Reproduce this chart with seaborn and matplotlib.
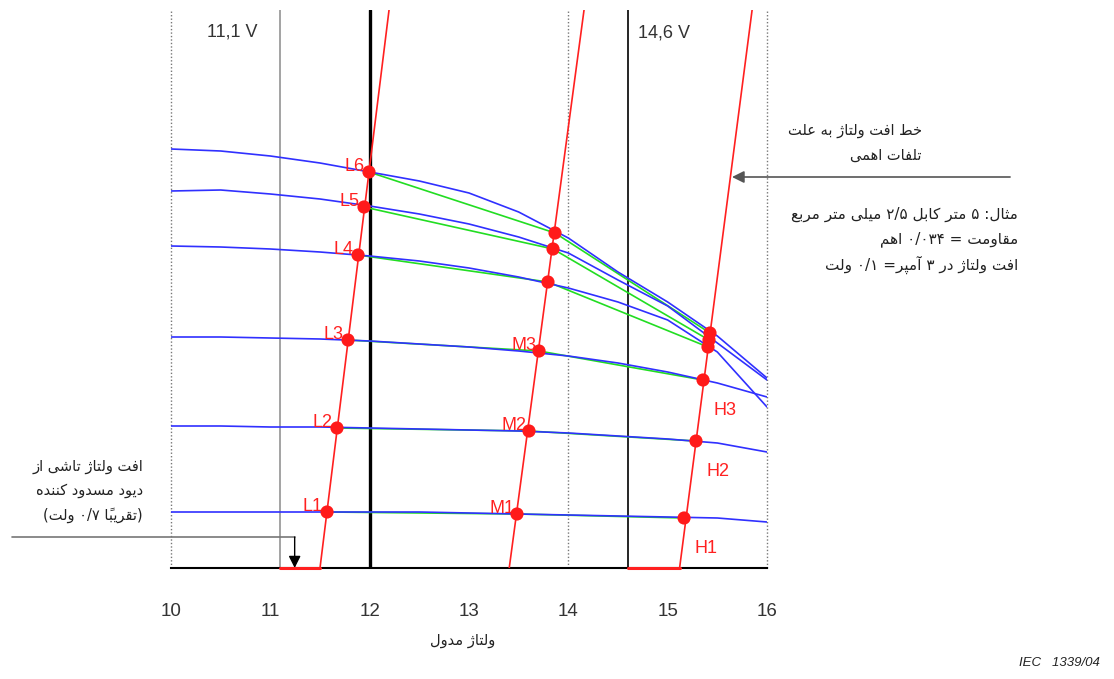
import numpy as np
import pandas as pd
import seaborn as sns
import matplotlib
matplotlib.use('Agg')
from matplotlib import pyplot as plt

# module voltage grid (V) and the six I-V curves (arbitrary current units)
volts = [10.0, 10.5, 11.0, 11.5, 12.0, 12.5, 13.0, 13.5, 14.0, 14.5, 15.0, 15.5, 16.0]
curve1 = [0.56, 0.56, 0.56, 0.56, 0.56, 0.56, 0.55, 0.54, 0.53, 0.52, 0.51, 0.50, 0.46]
curve2 = [1.42, 1.42, 1.41, 1.41, 1.40, 1.39, 1.38, 1.37, 1.35, 1.32, 1.29, 1.25, 1.16]
curve3 = [2.31, 2.31, 2.30, 2.29, 2.27, 2.24, 2.21, 2.17, 2.12, 2.05, 1.96, 1.85, 1.71]
curve4 = [3.22, 3.21, 3.19, 3.16, 3.12, 3.07, 3.00, 2.91, 2.80, 2.66, 2.48, 2.16, 1.61]
curve5 = [3.77, 3.78, 3.74, 3.69, 3.62, 3.54, 3.44, 3.31, 3.15, 2.88, 2.62, 2.25, 1.88]
curve6 = [4.19, 4.17, 4.12, 4.05, 3.96, 3.87, 3.75, 3.56, 3.30, 2.96, 2.66, 2.32, 1.90]

# operating points on the three load lines (L, M, H)
L_v = [11.571, 11.671, 11.782, 11.883, 11.943, 11.993]
L_i = [0.56, 1.40, 2.28, 3.13, 3.61, 3.96]
M_v = [13.483, 13.604, 13.705, 13.795, 13.846, 13.866]
M_i = [0.54, 1.37, 2.17, 2.86, 3.19, 3.35]
H_v = [15.165, 15.285, 15.356, 15.406, 15.416, 15.426]
H_i = [0.50, 1.27, 1.88, 2.21, 2.28, 2.35]

# load lines: bottom / top voltage
load_names = ['L', 'M', 'H']
load_v0 = [11.5, 13.405, 15.12]
load_v1 = [12.195, 14.158, 15.85]
i_top = 5.58

# diode drop segments on the axis
drop_start = [11.1, 14.6]
drop_end = [11.5, 15.12]

ticks = [10, 11, 12, 13, 14, 15, 16]
labeled_L = ['L1', 'L2', 'L3', 'L4', 'L5', 'L6']
labeled_M = ['M1', 'M2', 'M3']
labeled_H = ['H1', 'H2', 'H3']

txt_diode = ['افت ولتاژ تاشی از', 'دیود مسدود کننده', '(تقریباً ۰/۷ ولت)']
txt_line = ['خط افت ولتاژ به علت', 'تلفات اهمی']
txt_example = ['مثال: ۵ متر کابل ۲/۵ میلی متر مربع', 'مقاومت = ۰/۰۳۴ اهم',
               'افت ولتاژ در ۳ آمپر= ۰/۱ ولت']
txt_xlabel = 'ولتاژ مدول'

# --- simple Persian shaping (matplotlib has no complex text layout) ---
FORMS = {
    'ا': ('\uFE8D', '\uFE8E', None, None), 'آ': ('\uFE81', '\uFE82', None, None),
    'ب': ('\uFE8F', '\uFE90', '\uFE91', '\uFE92'), 'پ': ('\uFB56', '\uFB57', '\uFB58', '\uFB59'),
    'ت': ('\uFE95', '\uFE96', '\uFE97', '\uFE98'), 'ث': ('\uFE99', '\uFE9A', '\uFE9B', '\uFE9C'),
    'خ': ('\uFEA5', '\uFEA6', '\uFEA7', '\uFEA8'), 'د': ('\uFEA9', '\uFEAA', None, None),
    'ر': ('\uFEAD', '\uFEAE', None, None), 'ز': ('\uFEAF', '\uFEB0', None, None),
    'ژ': ('\uFB8A', '\uFB8B', None, None), 'س': ('\uFEB1', '\uFEB2', '\uFEB3', '\uFEB4'),
    'ش': ('\uFEB5', '\uFEB6', '\uFEB7', '\uFEB8'), 'ط': ('\uFEC1', '\uFEC2', '\uFEC3', '\uFEC4'),
    'ع': ('\uFEC9', '\uFECA', '\uFECB', '\uFECC'), 'ف': ('\uFED1', '\uFED2', '\uFED3', '\uFED4'),
    'ق': ('\uFED5', '\uFED6', '\uFED7', '\uFED8'), 'ک': ('\uFB8E', '\uFB8F', '\uFB90', '\uFB91'),
    'ل': ('\uFEDD', '\uFEDE', '\uFEDF', '\uFEE0'), 'م': ('\uFEE1', '\uFEE2', '\uFEE3', '\uFEE4'),
    'ن': ('\uFEE5', '\uFEE6', '\uFEE7', '\uFEE8'), 'ه': ('\uFEE9', '\uFEEA', '\uFEEB', '\uFEEC'),
    'و': ('\uFEED', '\uFEEE', None, None), 'ی': ('\uFBFC', '\uFBFD', '\uFBFE', '\uFBFF'),
}
MARKS = '\u064B'
DIGITS = '۰۱۲۳۴۵۶۷۸۹0123456789'


def fa(text):
    chars = list(text)
    shaped = []
    for n, ch in enumerate(chars):
        if ch not in FORMS:
            shaped.append(ch)
            continue
        j = n - 1
        while j >= 0 and chars[j] in MARKS:
            j -= 1
        k = n + 1
        while k < len(chars) and chars[k] in MARKS:
            k += 1
        prev = chars[j] if j >= 0 else None
        nxt = chars[k] if k < len(chars) else None
        jp = prev in FORMS and FORMS[prev][2] is not None
        jn = FORMS[ch][2] is not None and nxt in FORMS
        iso, fin, ini, med = FORMS[ch]
        shaped.append(med if jp and jn else fin if jp else ini if jn else iso)
    # clusters (base + marks)
    clusters = []
    for ch in shaped:
        if ch in MARKS and clusters:
            clusters[-1] += ch
        else:
            clusters.append(ch)
    # runs: digits stay left-to-right, the rest is reversed
    runs = []
    for n, c in enumerate(clusters):
        is_dig = c in DIGITS or (c == '/' and 0 < n < len(clusters) - 1
                                 and clusters[n - 1] in DIGITS and clusters[n + 1] in DIGITS)
        if runs and runs[-1][0] == is_dig:
            runs[-1][1].append(c)
        else:
            runs.append([is_dig, [c]])
    out = []
    for is_dig, cl in reversed(runs):
        out.extend(cl if is_dig else reversed(cl))
    mirror = {'(': ')', ')': '('}
    return ''.join(mirror.get(c, c) for c in out)


sns.set_style('white')
plt.rcParams['font.family'] = ['Liberation Sans', 'DejaVu Sans']

fig = plt.figure(figsize=(11.14, 6.79), dpi=100)
ax = fig.add_axes([171 / 1114, 111 / 679, 596 / 1114, 558 / 679])

# vertical reference lines
for v in [10, 14, 16]:
    ax.axvline(v, 0, 1, color='#777777', lw=1.0, ls=(0, (1, 1.5)), clip_on=False, zorder=1)
ax.axvline(11.1, color='#8a8a8a', lw=1.1, zorder=1)
ax.axvline(12, color='black', lw=2.4, zorder=1)
ax.axvline(14.6, color='black', lw=1.2, zorder=1)

# I-V curves
curves = pd.DataFrame({'V': volts * 6,
                       'I': curve1 + curve2 + curve3 + curve4 + curve5 + curve6,
                       'curve': sum([[c] * len(volts) for c in range(1, 7)], [])})
sns.lineplot(data=curves, x='V', y='I', hue='curve', palette=['#3030ff'] * 6,
             estimator=None, sort=False, lw=1.2, legend=False, ax=ax, zorder=3)

# green chords L -> M -> H
rows = []
for lvl in range(6):
    rows += [(lvl, L_v[lvl], L_i[lvl]), (lvl, M_v[lvl], M_i[lvl]), (lvl, H_v[lvl], H_i[lvl])]
chords = pd.DataFrame(rows, columns=['level', 'V', 'I'])
sns.lineplot(data=chords, x='V', y='I', hue='level', palette=['#22dd22'] * 6,
             estimator=None, sort=False, lw=1.2, legend=False, ax=ax, zorder=2)

# load lines
loads = pd.DataFrame({'V': [v for pair in zip(load_v0, load_v1) for v in pair],
                      'I': [0, i_top] * 3,
                      'line': [n for n in load_names for _ in range(2)]})
sns.lineplot(data=loads, x='V', y='I', hue='line', palette=['#ff2020'] * 3,
             estimator=None, sort=False, lw=1.2, legend=False, ax=ax, zorder=4)
for a, b in zip(drop_start, drop_end):
    ax.plot([a, b], [0, 0], color='#ff2020', lw=2.2, zorder=5, clip_on=False)

# operating points
pts = pd.DataFrame({'V': L_v + M_v + H_v, 'I': L_i + M_i + H_i})
sns.scatterplot(data=pts, x='V', y='I', color='#ff1a1a', s=90, edgecolor='none',
                zorder=6, ax=ax, clip_on=False)

red = '#ff2020'
for name, v, i in zip(labeled_L, L_v, L_i):
    ax.annotate(name, (v, i), xytext=(-3, 1), textcoords='offset points', ha='right',
                va='baseline', color=red, fontsize=13)
for name, v, i in zip(labeled_M, M_v, M_i):
    ax.annotate(name, (v, i), xytext=(-2, 1), textcoords='offset points', ha='right',
                va='baseline', color=red, fontsize=13)
for name, v, i in zip(labeled_H, H_v, H_i):
    ax.annotate(name, (v, i), xytext=(16, -22), textcoords='offset points', ha='center',
                va='center', color=red, fontsize=13)

ax.text(10.614, 5.36, '11,1 V', ha='center', va='center', fontsize=13, color='#333333')
ax.text(14.968, 5.35, '14,6 V', ha='center', va='center', fontsize=13, color='#333333')

ax.set_xlim(10, 16)
ax.set_ylim(0, i_top)
ax.set_xticks(ticks)
ax.set_yticks([])
ax.set_xlabel('')
ax.set_ylabel('')
for s in ['top', 'left', 'right']:
    ax.spines[s].set_visible(False)
ax.spines['bottom'].set_color('black')
ax.spines['bottom'].set_linewidth(1.5)
ax.tick_params(axis='x', direction='inout', length=12, width=1.2, pad=19,
               labelsize=13.5, labelcolor='#333333', color='black')

ax.text(12.94, -0.72, fa(txt_xlabel), ha='center', va='center', fontsize=10.5,
        color='#222222', family='DejaVu Sans')

# blocking diode note + arrow
for k, line in enumerate(txt_diode):
    ax.text(9.718, 1.01 - 0.24 * k, fa(line), ha='right', va='center', fontsize=10.5,
            color='#222222', family='DejaVu Sans')
ax.plot([8.396, 11.245], [0.31, 0.31], color='#777777', lw=1.2, clip_on=False)
ax.annotate('', xy=(11.245, 0.0), xytext=(11.245, 0.31), annotation_clip=False,
            arrowprops=dict(arrowstyle='-|>', color='black', lw=1.0, mutation_scale=18,
                            shrinkA=0, shrinkB=0))

# ohmic loss line note + arrow
for k, line in enumerate(txt_line):
    ax.text(17.56, 4.37 - 0.24 * k, fa(line), ha='right', va='center', fontsize=10.5,
            color='#222222', family='DejaVu Sans')
ax.annotate('', xy=(15.648, 3.91), xytext=(18.447, 3.91), annotation_clip=False,
            arrowprops=dict(arrowstyle='-|>', color='#555555', lw=1.2, mutation_scale=18,
                            shrinkA=0, shrinkB=0))
for k, line in enumerate(txt_example):
    ax.text(18.527, 3.54 - 0.255 * k, fa(line), ha='right', va='center', fontsize=11,
            color='#222222', family='DejaVu Sans')

fig.text(1100 / 1114, 1 - 663 / 679, 'IEC   1339/04', ha='right', va='center',
         fontsize=9.5, style='italic', color='#222222')

fig.savefig('out.png', dpi=100)
